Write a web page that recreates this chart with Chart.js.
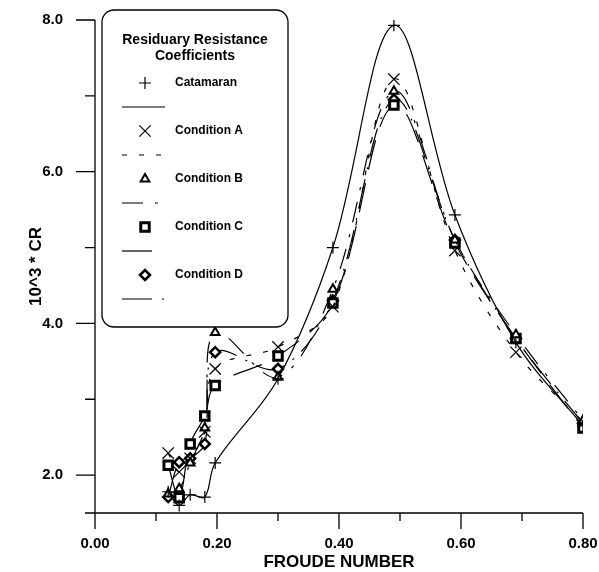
<!DOCTYPE html>
<html>
<head>
<meta charset="utf-8">
<script src="https://cdn.jsdelivr.net/npm/chart.js@4/dist/chart.umd.min.js"></script>
<style>
  html, body { margin: 0; padding: 0; background: #fff; }
  canvas { display: block; }
</style>
</head>
<body>
<canvas id="crChart" width="599" height="572"></canvas>
<script>
// froude numbers tested
const froude = [0.12, 0.138, 0.156, 0.18, 0.197, 0.30, 0.39, 0.49, 0.59, 0.69, 0.80];

// 10^3 * CR for each hull condition
const catamaran = [1.78, 1.60, 1.74, 1.71, 2.16, 3.27, 5.00, 7.93, 5.43, 3.75, 2.65];
const condA     = [2.29, 2.04, 2.22, 2.57, 3.40, 3.69, 4.22, 7.22, 4.96, 3.62, 2.70];
const condB     = [1.75, 1.82, 2.16, 2.62, 3.88, 3.29, 4.45, 7.06, 5.10, 3.85, 2.72];
const condC     = [2.13, 1.70, 2.41, 2.78, 3.18, 3.57, 4.27, 6.88, 5.06, 3.80, 2.62];
const condD     = [1.71, 2.17, 2.22, 2.41, 3.62, 3.40, 4.30, 6.95, 5.10, 3.80, 2.68];

const seriesNames = ['Catamaran', 'Condition A', 'Condition B', 'Condition C', 'Condition D'];

// axis ticks
const xMajorTicks = [0.0, 0.2, 0.4, 0.6, 0.8];
const xMinorTicks = [0.1, 0.3, 0.5, 0.7];
const yMajorTicks = [2.0, 4.0, 6.0, 8.0];
const yMinorTicks = [1.5, 3.0, 5.0, 7.0];

const FONT = '"Liberation Sans", Arial, sans-serif';

function pts(ys) {
    return froude.map((x, i) => ({ x: x, y: ys[i] }));
}

const styles = [
    { pointStyle: 'cross',    pointRadius: 6, pointBorderWidth: 1.2, borderDash: [] },
    { pointStyle: 'crossRot', pointRadius: 8, pointBorderWidth: 1.2, borderDash: [5, 12] },
    { pointStyle: 'triangle', pointRadius: 5, pointBorderWidth: 2,   borderDash: [21, 12, 3, 12] },
    { pointStyle: 'rect',     pointRadius: 6, pointBorderWidth: 3,   borderDash: [30, 14] },
    { pointStyle: 'rectRot',  pointRadius: 5, pointBorderWidth: 2.5, borderDash: [30, 10, 2, 10] }
];

const allSeries = [catamaran, condA, condB, condC, condD];

const datasets = allSeries.map((vals, i) => ({
    label: seriesNames[i],
    data: pts(vals),
    borderColor: '#000',
    backgroundColor: '#fff',
    borderWidth: 1.2,
    borderDash: styles[i].borderDash,
    tension: 0.35,
    pointStyle: styles[i].pointStyle,
    pointRadius: styles[i].pointRadius,
    pointBorderWidth: styles[i].pointBorderWidth,
    pointBorderColor: '#000',
    pointBackgroundColor: '#fff'
}));

// fixed axis box, no extra label padding
function fixScale(size) {
    return s => {
        if (s.isHorizontal()) s.height = size; else s.width = size;
        s.paddingTop = s.paddingBottom = s.paddingLeft = s.paddingRight = 0;
    };
}

// axis lines and tick marks drawn by hand (major / minor lengths differ)
const axesPlugin = {
    id: 'axesPlugin',
    afterDraw(chart) {
        const ctx = chart.ctx;
        const xs = chart.scales.x, ys = chart.scales.y;
        const x0 = xs.left, y0 = ys.bottom;
        ctx.save();
        ctx.strokeStyle = '#000';
        ctx.lineWidth = 1.3;
        ctx.beginPath();
        ctx.moveTo(x0, ys.top);
        ctx.lineTo(x0, y0 + 16);
        ctx.moveTo(x0, y0);
        ctx.lineTo(xs.right, y0);
        yMajorTicks.forEach(v => {
            const p = ys.getPixelForValue(v);
            ctx.moveTo(x0 - 19, p); ctx.lineTo(x0, p);
        });
        yMinorTicks.forEach(v => {
            const p = ys.getPixelForValue(v);
            ctx.moveTo(x0 - 10, p); ctx.lineTo(x0, p);
        });
        xMajorTicks.forEach(v => {
            const p = xs.getPixelForValue(v);
            ctx.moveTo(p, y0); ctx.lineTo(p, y0 + 16);
        });
        xMinorTicks.forEach(v => {
            const p = xs.getPixelForValue(v);
            ctx.moveTo(p, y0); ctx.lineTo(p, y0 + 8);
        });
        ctx.stroke();
        ctx.restore();
    }
};

// boxed legend: marker + name on one row, line sample on the row below
const legendPlugin = {
    id: 'boxLegend',
    afterDraw(chart) {
        const ctx = chart.ctx;
        ctx.save();
        ctx.beginPath();
        ctx.roundRect(102, 10, 186, 317, 12);
        ctx.fillStyle = '#fff';
        ctx.fill();
        ctx.strokeStyle = '#000';
        ctx.lineWidth = 1.3;
        ctx.stroke();

        ctx.fillStyle = '#000';
        ctx.font = 'bold 14px ' + FONT;
        ctx.textAlign = 'center';
        ctx.textBaseline = 'middle';
        ctx.fillText('Residuary Resistance', 195, 40);
        ctx.fillText('Coefficients', 195, 56);

        chart.data.datasets.forEach((ds, i) => {
            const y = 83 + i * 48;
            ctx.strokeStyle = '#000';
            ctx.fillStyle = '#fff';
            ctx.lineWidth = ds.pointBorderWidth;
            ctx.setLineDash([]);
            Chart.helpers.drawPoint(ctx, {
                pointStyle: ds.pointStyle,
                radius: ds.pointRadius,
                borderWidth: ds.pointBorderWidth,
                rotation: 0
            }, 145, y);

            ctx.fillStyle = '#000';
            ctx.font = 'bold 12px ' + FONT;
            ctx.textAlign = 'left';
            ctx.fillText(ds.label, 175, y);

            const ly = y + 24;
            ctx.lineWidth = 1.2;
            ctx.setLineDash(ds.borderDash);
            ctx.beginPath();
            ctx.moveTo(122, ly);
            ctx.lineTo(165, ly);
            ctx.stroke();
        });
        ctx.restore();
    }
};

const ctx = document.getElementById('crChart').getContext('2d');

const crChart = new Chart(ctx, {
    type: 'line',
    data: { datasets: datasets },
    options: {
        responsive: false,
        animation: false,
        devicePixelRatio: 1,
        layout: { autoPadding: false, padding: { top: 20, right: 16, left: 0, bottom: 0 } },
        plugins: {
            legend: { display: false },
            tooltip: { enabled: false }
        },
        scales: {
            x: {
                type: 'linear',
                min: 0,
                max: 0.8,
                afterFit: fixScale(59),
                afterBuildTicks: s => { s.ticks = xMajorTicks.map(v => ({ value: v })); },
                grid: { display: false, drawTicks: false },
                border: { display: false },
                ticks: {
                    padding: 22,
                    color: '#000',
                    font: { family: FONT, size: 15, weight: 'bold' },
                    callback: v => v.toFixed(2)
                },
                title: {
                    display: true,
                    text: 'FROUDE NUMBER',
                    color: '#000',
                    font: { family: FONT, size: 17, weight: 'bold', lineHeight: 1 },
                    padding: { top: 0, bottom: 1.5 }
                }
            },
            y: {
                type: 'linear',
                min: 1.5,
                max: 8.0,
                afterFit: fixScale(95),
                afterBuildTicks: s => { s.ticks = yMajorTicks.map(v => ({ value: v })); },
                grid: { display: false, drawTicks: false },
                border: { display: false },
                ticks: {
                    padding: 32,
                    color: '#000',
                    font: { family: FONT, size: 15, weight: 'bold' },
                    callback: v => v.toFixed(1)
                },
                title: {
                    display: true,
                    text: '10^3 * CR',
                    color: '#000',
                    font: { family: FONT, size: 17, weight: 'bold', lineHeight: 1 },
                    padding: { top: 28, bottom: 0 }
                }
            }
        }
    },
    plugins: [axesPlugin, legendPlugin]
});
</script>
</body>
</html>
